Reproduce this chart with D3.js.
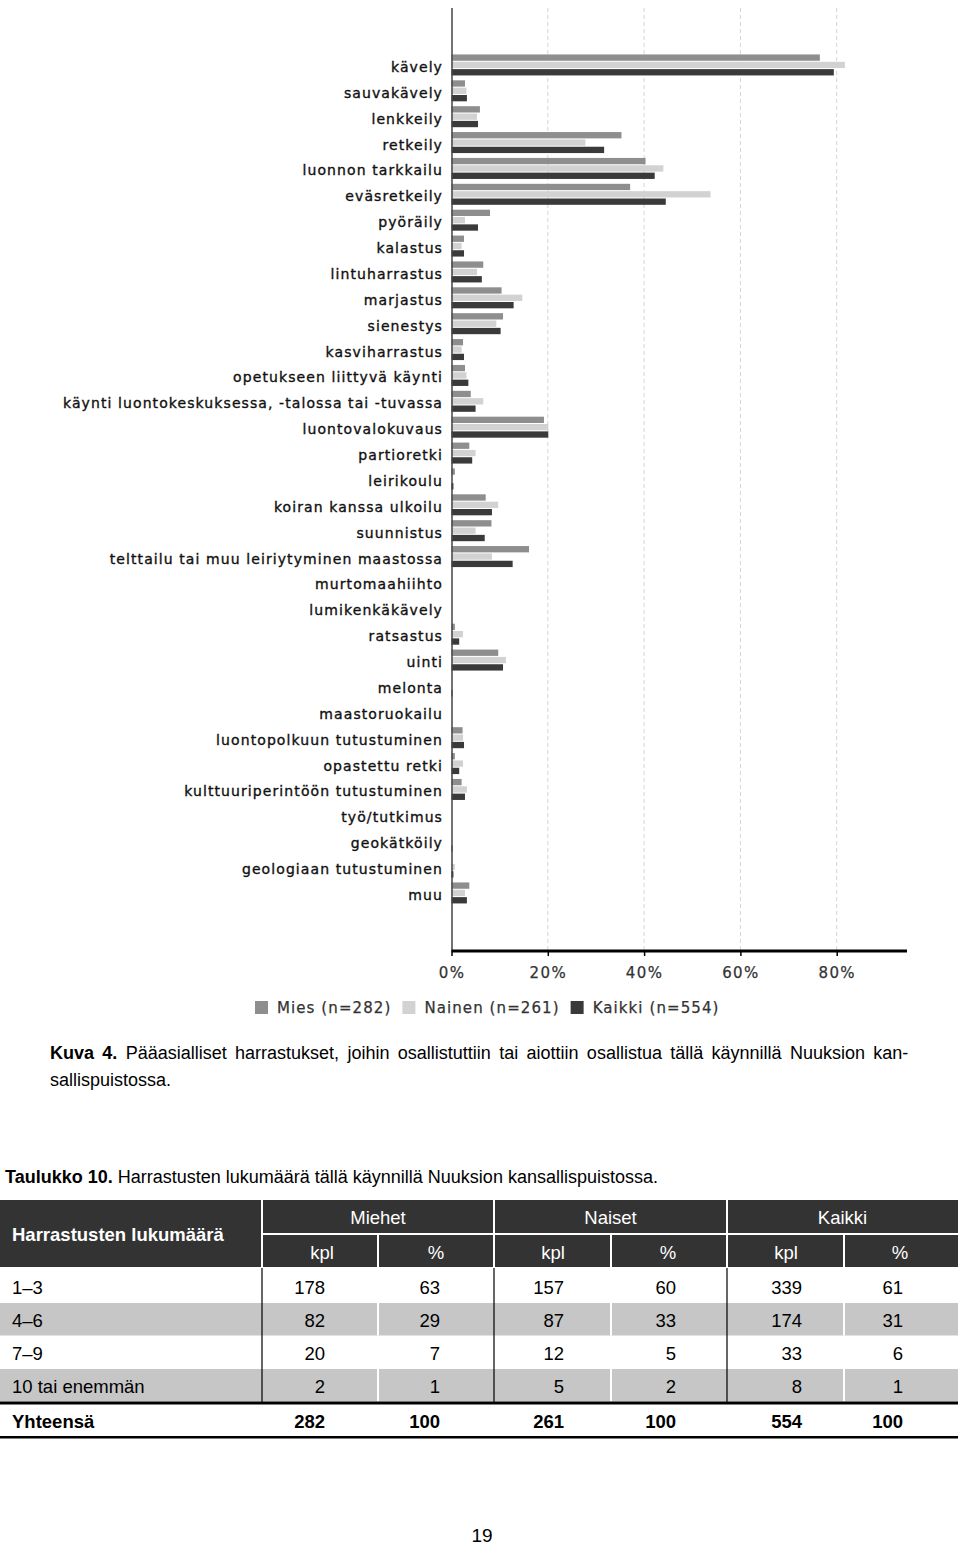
<!DOCTYPE html>
<html><head><meta charset="utf-8">
<script src="https://cdn.jsdelivr.net/npm/d3@7"></script>
<style>
html,body{margin:0;padding:0;background:#fff;}
svg{display:block;}
</style>
</head><body>
<script>
const categories = ["kävely","sauvakävely","lenkkeily","retkeily","luonnon tarkkailu","eväsretkeily","pyöräily","kalastus","lintuharrastus","marjastus","sienestys","kasviharrastus","opetukseen liittyvä käynti","käynti luontokeskuksessa, -talossa tai -tuvassa","luontovalokuvaus","partioretki","leirikoulu","koiran kanssa ulkoilu","suunnistus","telttailu tai muu leiriytyminen maastossa","murtomaahiihto","lumikenkäkävely","ratsastus","uinti","melonta","maastoruokailu","luontopolkuun tutustuminen","opastettu retki","kulttuuriperintöön tutustuminen","työ/tutkimus","geokätköily","geologiaan tutustuminen","muu"];
const mies   = [76.5,2.8,5.9,35.3,40.3,37.1,8.0,2.6,6.6,10.4,10.7,2.4,2.8,4.0,19.2,3.7,0.7,7.1,8.3,16.1,0,0,0.7,9.7,0,0,2.3,0.7,2.1,0,0,0,3.7];
const nainen = [81.7,3.1,5.3,27.8,44.0,53.8,2.8,2.1,5.3,14.7,9.3,2.1,3.1,6.6,20.1,5.0,0,9.7,5.0,8.4,0,0,2.4,11.3,0,0,2.4,2.4,3.2,0,0,0.7,2.8];
const kaikki = [79.4,3.2,5.5,31.7,42.2,44.5,5.5,2.6,6.3,12.9,10.2,2.6,3.5,5.0,20.1,4.3,0.4,8.4,6.9,12.7,0,0,1.6,10.7,0.2,0,2.6,1.6,2.8,0,0.2,0.4,3.2];
const seriesNames = ["Mies (n=282)","Nainen (n=261)","Kaikki (n=554)"];
const seriesColors = ["#8e8e8e","#d2d2d2","#3a3a3a"];
const xTicks = [0,20,40,60,80];

const rowLabels = ["1–3","4–6","7–9","10 tai enemmän"];
const miehetKpl = ["178","82","20","2"];
const miehetPct = ["63","29","7","1"];
const naisetKpl = ["157","87","12","5"];
const naisetPct = ["60","33","5","2"];
const kaikkiKpl = ["339","174","33","8"];
const kaikkiPct = ["61","31","6","1"];
const totalRow = ["Yhteensä","282","100","261","100","554","100"];
const groupHeaders = ["Miehet","Naiset","Kaikki"];
const subHeaders = ["kpl","%","kpl","%","kpl","%"];

const W = 960, H = 1545;
const svg = d3.select("body").append("svg").attr("width", W).attr("height", H);

const chartFont = "'DejaVu Sans', Verdana, sans-serif";
const x = d3.scaleLinear().domain([0, 94.6]).range([451.5, 907]);
const y = d3.scaleBand().domain(categories).range([52, 52 + 33 * 25.875]);
const ySub = d3.scaleBand().domain([0,1,2]).range([-10.5, 10.5]).paddingInner(0.14);

const gChart = svg.append("g");
gChart.selectAll("line.grid").data(xTicks.slice(1)).join("line")
  .attr("x1", d => x(d)).attr("x2", d => x(d)).attr("y1", 8).attr("y2", 950)
  .attr("stroke", "#d4d4d4").attr("stroke-width", 1).attr("stroke-dasharray", "4,3");

const data = categories.map((c, i) => ({c, v: [mies[i], nainen[i], kaikki[i]]}));
const grp = gChart.selectAll("g.cat").data(data).join("g")
  .attr("transform", d => `translate(0,${y(d.c) + y.bandwidth() / 2})`);
grp.selectAll("rect").data(d => d.v.map((v, k) => ({v, k}))).join("rect")
  .attr("x", x(0)).attr("y", d => ySub(d.k))
  .attr("width", d => Math.max(0, x(d.v) - x(0))).attr("height", ySub.bandwidth())
  .attr("fill", d => seriesColors[d.k]);

gChart.append("line").attr("x1", 452).attr("x2", 452).attr("y1", 8).attr("y2", 951)
  .attr("stroke", "#444").attr("stroke-width", 1.5);

const labels = gChart.selectAll("text.lab").data(categories).join("text")
  .attr("x", 443).attr("y", d => y(d) + y.bandwidth() / 2 + 2)
  .attr("text-anchor", "end").attr("dominant-baseline", "central")
  .attr("font-family", chartFont).attr("font-size", 14).attr("fill", "#111")
  .attr("stroke", "#111").attr("stroke-width", 0.35)
  .text(d => d);
const longest = labels.filter(d => d.startsWith("käynti luonto"));
const natW = longest.node().getComputedTextLength();
const ls = (380 - natW) / (categories[13].length);
labels.attr("letter-spacing", ls);

const xAxis = d3.axisBottom(x).tickValues(xTicks).tickFormat(d => d + "%").tickSize(5).tickPadding(11);
const ax = gChart.append("g").attr("transform", "translate(0,951)").call(xAxis);
ax.select(".domain").attr("stroke", "#000").attr("stroke-width", 3).attr("d", `M${x(0)},0H907`);
ax.selectAll(".tick line").attr("stroke", "#000").attr("stroke-width", 1.5);
ax.selectAll(".tick text").attr("font-family", chartFont).attr("font-size", 15)
  .attr("fill", "#333").attr("stroke", "#333").attr("stroke-width", 0.25).attr("letter-spacing", ls + 0.3);

let lx = 255;
const leg = gChart.append("g");
seriesNames.forEach((n, k) => {
  leg.append("rect").attr("x", lx).attr("y", 1001).attr("width", 13).attr("height", 13).attr("fill", seriesColors[k]);
  const t = leg.append("text").attr("x", lx + 22).attr("y", 1008).attr("dominant-baseline", "central")
    .attr("font-family", chartFont).attr("font-size", 15).attr("fill", "#333")
    .attr("stroke", "#333").attr("stroke-width", 0.25)
    .attr("letter-spacing", ls).text(n);
  lx = lx + 22 + t.node().getComputedTextLength() + 11;
});

// caption
const capFont = "'Liberation Sans', Arial, sans-serif";
const cap1 = svg.append("text").attr("x", 50).attr("y", 1059).attr("font-family", capFont).attr("font-size", 18).attr("fill", "#000");
cap1.append("tspan").attr("font-weight", "bold").text("Kuva 4.");
cap1.append("tspan").text(" Pääasialliset harrastukset, joihin osallistuttiin tai aiottiin osallistua tällä käynnillä Nuuksion kan-");
const cw = cap1.node().getComputedTextLength();
const nSp = 14;
cap1.attr("word-spacing", (865 - cw) / nSp);
svg.append("text").attr("x", 50).attr("y", 1086).attr("font-family", capFont).attr("font-size", 18).text("sallispuistossa.");

const cap2 = svg.append("text").attr("x", 5).attr("y", 1183).attr("font-family", capFont).attr("font-size", 18);
cap2.append("tspan").attr("font-weight", "bold").text("Taulukko 10.");
cap2.append("tspan").text(" Harrastusten lukumäärä tällä käynnillä Nuuksion kansallispuistossa.");

// table
const tf = capFont, tfs = 18.5;
const colEdges = [0, 262, 378, 494, 611, 727, 844, 958];
const T = svg.append("g");
T.append("rect").attr("x", 0).attr("y", 1200).attr("width", 958).attr("height", 67).attr("fill", "#333333");
[262, 494, 727].forEach(xx => T.append("line").attr("x1", xx).attr("x2", xx).attr("y1", 1200).attr("y2", 1267).attr("stroke", "#fff").attr("stroke-width", 2));
[378, 611, 844].forEach(xx => T.append("line").attr("x1", xx).attr("x2", xx).attr("y1", 1234).attr("y2", 1267).attr("stroke", "#fff").attr("stroke-width", 2));
T.append("line").attr("x1", 262).attr("x2", 958).attr("y1", 1234).attr("y2", 1234).attr("stroke", "#fff").attr("stroke-width", 2);
T.append("text").attr("x", 12).attr("y", 1234).attr("dominant-baseline", "central")
  .attr("font-family", tf).attr("font-size", tfs).attr("font-weight", "bold").attr("fill", "#fff").text("Harrastusten lukumäärä");
T.selectAll("text.gh").data(groupHeaders).join("text")
  .attr("x", (d, i) => (colEdges[1 + 2 * i] + colEdges[3 + 2 * i]) / 2).attr("y", 1217)
  .attr("dominant-baseline", "central").attr("text-anchor", "middle")
  .attr("font-family", tf).attr("font-size", tfs).attr("fill", "#fff").text(d => d);
const subX = [322, 436, 553, 668, 786, 900];
T.selectAll("text.sh").data(subHeaders).join("text")
  .attr("x", (d, i) => subX[i]).attr("y", 1252)
  .attr("dominant-baseline", "central").attr("text-anchor", "middle")
  .attr("font-family", tf).attr("font-size", tfs).attr("fill", "#fff").text(d => d);

const rowTop = [1270, 1303, 1336, 1369];
const rowH = 32.5;
rowTop.forEach((yy, r) => {
  if (r % 2 === 1) T.append("rect").attr("x", 0).attr("y", yy).attr("width", 958).attr("height", rowH).attr("fill", "#c6c6c6");
});
rowTop.forEach((yy, r) => {
  if (r % 2 === 1) [378, 611, 844].forEach(xx => T.append("line").attr("x1", xx).attr("x2", xx).attr("y1", yy).attr("y2", yy + rowH).attr("stroke", "#fff").attr("stroke-width", 2));
});
[262, 494, 727].forEach(xx => T.append("line").attr("x1", xx).attr("x2", xx).attr("y1", 1268).attr("y2", 1402).attr("stroke", "#000").attr("stroke-width", 1.2));

const numRight = [325, 440, 564, 676, 802, 903];
const cols = [miehetKpl, miehetPct, naisetKpl, naisetPct, kaikkiKpl, kaikkiPct];
rowLabels.forEach((lab, r) => {
  const cy = rowTop[r] + rowH / 2 + 1;
  T.append("text").attr("x", 12).attr("y", cy).attr("dominant-baseline", "central")
    .attr("font-family", tf).attr("font-size", tfs).attr("fill", "#000").text(lab);
  cols.forEach((col, c) => {
    T.append("text").attr("x", numRight[c]).attr("y", cy).attr("dominant-baseline", "central").attr("text-anchor", "end")
      .attr("font-family", tf).attr("font-size", tfs).attr("fill", "#000").text(col[r]);
  });
});
T.append("rect").attr("x", 0).attr("y", 1401.5).attr("width", 958).attr("height", 3).attr("fill", "#000");
T.append("text").attr("x", 12).attr("y", 1421).attr("dominant-baseline", "central")
  .attr("font-family", tf).attr("font-size", tfs).attr("font-weight", "bold").text(totalRow[0]);
totalRow.slice(1).forEach((v, c) => {
  T.append("text").attr("x", numRight[c]).attr("y", 1421).attr("dominant-baseline", "central").attr("text-anchor", "end")
    .attr("font-family", tf).attr("font-size", tfs).attr("font-weight", "bold").text(v);
});
T.append("rect").attr("x", 0).attr("y", 1436).attr("width", 958).attr("height", 2.5).attr("fill", "#000");

svg.append("text").attr("x", 482).attr("y", 1535).attr("dominant-baseline", "central").attr("text-anchor", "middle")
  .attr("font-family", tf).attr("font-size", 19).text("19");
</script>
</body></html>
